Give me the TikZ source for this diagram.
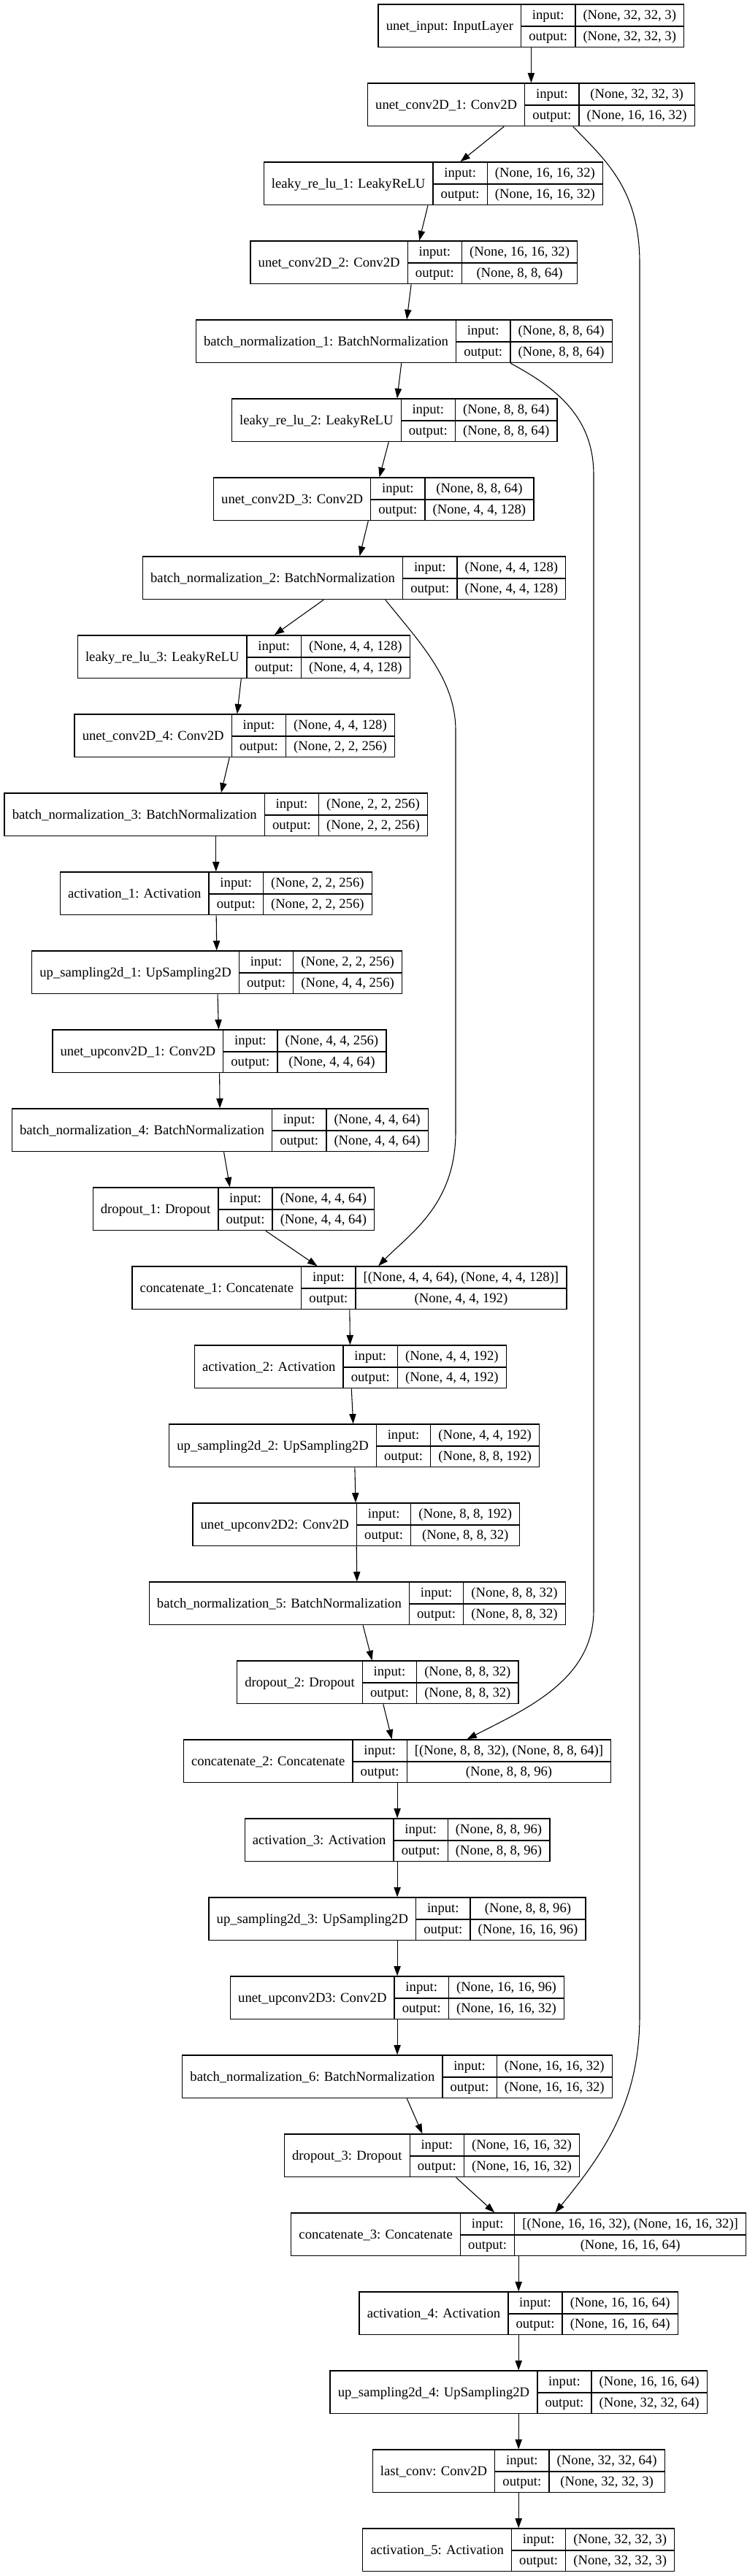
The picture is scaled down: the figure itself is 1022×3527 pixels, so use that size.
\documentclass[tikz,border=0pt]{standalone}
\usepackage{fontspec}
\setmainfont{Liberation Serif}
\usepackage{multirow}
\usepackage{tikz}
\usetikzlibrary{positioning,arrows.meta}

\setlength{\tabcolsep}{8pt}
\setlength{\arrayrulewidth}{1pt}
\newcommand{\keraslayer}[3]{%
  \begin{tabular}{c|c|c}
    \multirow{2}{*}{#1} & input: & #2 \\ \cline{2-3}
    & output: & #3
  \end{tabular}}

\begin{document}
\begin{tikzpicture}[
				x=0.75pt, y=-0.75pt,
				node distance=36pt,
				layer/.style={draw=black, line width=1pt, inner sep=0pt, font=\fontsize{14}{22}\selectfont},
				link/.style={line width=0.8pt, -{Triangle[length=10pt,width=7pt]}}
			]
			\useasboundingbox (0,0) rectangle (1022,3527);
			\node[layer] (input) at (727.4,35.3) {\keraslayer{unet\_input: InputLayer}{(None, 32, 32, 3)}{(None, 32, 32, 3)}};
			\node[layer, below=of input] (conv1) {\keraslayer{unet\_conv2D\_1: Conv2D}{(None, 32, 32, 3)}{(None, 16, 16, 32)}};
			\node[layer, below=of conv1, xshift=-100.5pt] (leaky1) {\keraslayer{leaky\_re\_lu\_1: LeakyReLU}{(None, 16, 16, 32)}{(None, 16, 16, 32)}};
			\node[layer, below=of leaky1, xshift=-19.9pt] (conv2) {\keraslayer{unet\_conv2D\_2: Conv2D}{(None, 16, 16, 32)}{(None, 8, 8, 64)}};
			\node[layer, below=of conv2, xshift=-10.1pt] (bn1) {\keraslayer{batch\_normalization\_1: BatchNormalization}{(None, 8, 8, 64)}{(None, 8, 8, 64)}};
			\node[layer, below=of bn1, xshift=-9.9pt] (leaky2) {\keraslayer{leaky\_re\_lu\_2: LeakyReLU}{(None, 8, 8, 64)}{(None, 8, 8, 64)}};
			\node[layer, below=of leaky2, xshift=-21.4pt] (conv3) {\keraslayer{unet\_conv2D\_3: Conv2D}{(None, 8, 8, 64)}{(None, 4, 4, 128)}};
			\node[layer, below=of conv3, xshift=-19.9pt] (bn2) {\keraslayer{batch\_normalization\_2: BatchNormalization}{(None, 4, 4, 128)}{(None, 4, 4, 128)}};
			\node[layer, below=of bn2, xshift=-113.5pt] (leaky3) {\keraslayer{leaky\_re\_lu\_3: LeakyReLU}{(None, 4, 4, 128)}{(None, 4, 4, 128)}};
			\node[layer, below=of leaky3, xshift=-9.4pt] (conv4) {\keraslayer{unet\_conv2D\_4: Conv2D}{(None, 4, 4, 128)}{(None, 2, 2, 256)}};
			\node[layer, below=of conv4, xshift=-19.1pt] (bn3) {\keraslayer{batch\_normalization\_3: BatchNormalization}{(None, 2, 2, 256)}{(None, 2, 2, 256)}};
			\node[layer, below=of bn3] (act1) {\keraslayer{activation\_1: Activation}{(None, 2, 2, 256)}{(None, 2, 2, 256)}};
			\node[layer, below=of act1, xshift=1pt] (up1) {\keraslayer{up\_sampling2d\_1: UpSampling2D}{(None, 2, 2, 256)}{(None, 4, 4, 256)}};
			\node[layer, below=of up1, xshift=2.4pt] (upconv1) {\keraslayer{unet\_upconv2D\_1: Conv2D}{(None, 4, 4, 256)}{(None, 4, 4, 64)}};
			\node[layer, below=of upconv1, xshift=0.8pt] (bn4) {\keraslayer{batch\_normalization\_4: BatchNormalization}{(None, 4, 4, 64)}{(None, 4, 4, 64)}};
			\node[layer, below=of bn4, xshift=13.9pt] (drop1) {\keraslayer{dropout\_1: Dropout}{(None, 4, 4, 64)}{(None, 4, 4, 64)}};
			\node[layer, below=of drop1, xshift=118.9pt] (cat1) {\keraslayer{concatenate\_1: Concatenate}{[(None, 4, 4, 64), (None, 4, 4, 128)]}{(None, 4, 4, 192)}};
			\node[layer, below=of cat1, xshift=1pt] (act2) {\keraslayer{activation\_2: Activation}{(None, 4, 4, 192)}{(None, 4, 4, 192)}};
			\node[layer, below=of act2, xshift=4pt] (up2) {\keraslayer{up\_sampling2d\_2: UpSampling2D}{(None, 4, 4, 192)}{(None, 8, 8, 192)}};
			\node[layer, below=of up2, xshift=2pt] (upconv2) {\keraslayer{unet\_upconv2D2: Conv2D}{(None, 8, 8, 192)}{(None, 8, 8, 32)}};
			\node[layer, below=of upconv2, xshift=1.1pt] (bn5) {\keraslayer{batch\_normalization\_5: BatchNormalization}{(None, 8, 8, 32)}{(None, 8, 8, 32)}};
			\node[layer, below=of bn5, xshift=21.1pt] (drop2) {\keraslayer{dropout\_2: Dropout}{(None, 8, 8, 32)}{(None, 8, 8, 32)}};
			\node[layer, below=of drop2, xshift=20pt] (cat2) {\keraslayer{concatenate\_2: Concatenate}{[(None, 8, 8, 32), (None, 8, 8, 64)]}{(None, 8, 8, 96)}};
			\node[layer, below=of cat2] (act3) {\keraslayer{activation\_3: Activation}{(None, 8, 8, 96)}{(None, 8, 8, 96)}};
			\node[layer, below=of act3] (up3) {\keraslayer{up\_sampling2d\_3: UpSampling2D}{(None, 8, 8, 96)}{(None, 16, 16, 96)}};
			\node[layer, below=of up3] (upconv3) {\keraslayer{unet\_upconv2D3: Conv2D}{(None, 16, 16, 96)}{(None, 16, 16, 32)}};
			\node[layer, below=of upconv3] (bn6) {\keraslayer{batch\_normalization\_6: BatchNormalization}{(None, 16, 16, 32)}{(None, 16, 16, 32)}};
			\node[layer, below=of bn6, xshift=35.6pt] (drop3) {\keraslayer{dropout\_3: Dropout}{(None, 16, 16, 32)}{(None, 16, 16, 32)}};
			\node[layer, below=of drop3, xshift=89pt] (cat3) {\keraslayer{concatenate\_3: Concatenate}{[(None, 16, 16, 32), (None, 16, 16, 32)]}{(None, 16, 16, 64)}};
			\node[layer, below=of cat3] (act4) {\keraslayer{activation\_4: Activation}{(None, 16, 16, 64)}{(None, 16, 16, 64)}};
			\node[layer, below=of act4] (up4) {\keraslayer{up\_sampling2d\_4: UpSampling2D}{(None, 16, 16, 64)}{(None, 32, 32, 64)}};
			\node[layer, below=of up4] (lastconv) {\keraslayer{last\_conv: Conv2D}{(None, 32, 32, 64)}{(None, 32, 32, 3)}};
			\node[layer, below=of lastconv] (act5) {\keraslayer{activation\_5: Activation}{(None, 32, 32, 3)}{(None, 32, 32, 3)}};
			\begin{scope}[link]
			\draw (input) -- (conv1);
			\draw (conv1) -- (leaky1);
			\draw (leaky1) -- (conv2);
			\draw (conv2) -- (bn1);
			\draw (bn1) -- (leaky2);
			\draw (leaky2) -- (conv3);
			\draw (conv3) -- (bn2);
			\draw (bn2) -- (leaky3);
			\draw (leaky3) -- (conv4);
			\draw (conv4) -- (bn3);
			\draw (bn3) -- (act1);
			\draw (act1) -- (up1);
			\draw (up1) -- (upconv1);
			\draw (upconv1) -- (bn4);
			\draw (bn4) -- (drop1);
			\draw (drop1) -- (cat1);
			\draw (cat1) -- (act2);
			\draw (act2) -- (up2);
			\draw (up2) -- (upconv2);
			\draw (upconv2) -- (bn5);
			\draw (bn5) -- (drop2);
			\draw (drop2) -- (cat2);
			\draw (cat2) -- (act3);
			\draw (act3) -- (up3);
			\draw (up3) -- (upconv3);
			\draw (upconv3) -- (bn6);
			\draw (bn6) -- (drop3);
			\draw (drop3) -- (cat3);
			\draw (cat3) -- (act4);
			\draw (act4) -- (up4);
			\draw (up4) -- (lastconv);
			\draw (lastconv) -- (act5);
			\draw ([xshift=32pt]bn2.south) .. controls (575,880) and (624,930) .. (624,1000) -- (624,1550) .. controls (624,1650) and (560,1690) .. ([xshift=29.8pt]cat1.north);
			\draw ([xshift=109.2pt]bn1.south) .. controls (760,530) and (813,570) .. (813,650) -- (813,2205) .. controls (813,2300) and (720,2340) .. ([xshift=71.6pt]cat2.north);
			\draw ([xshift=43pt]conv1.south) .. controls (830,220) and (876,260) .. (876,360) -- (876,2760) .. controls (876,2880) and (825,2950) .. ([xshift=37.7pt]cat3.north);
			\end{scope}
			\end{tikzpicture}
\end{document}
